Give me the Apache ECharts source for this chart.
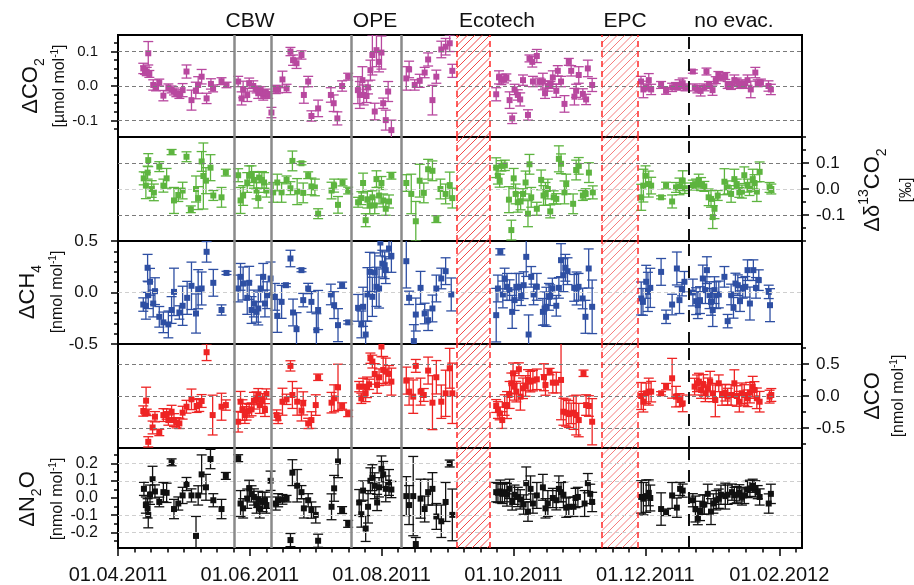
<!DOCTYPE html>
<html>
<head>
<meta charset="utf-8">
<script src="https://cdn.jsdelivr.net/npm/echarts@6/dist/echarts.min.js"></script>
<style>
  html, body { margin: 0; padding: 0; background: #fff; }
  #chart { width: 914px; height: 585px; }
</style>
</head>
<body>
<div id="chart"></div>
<script>
// x values are days since 01.04.2011, each point is [day, value, error]
const tickDates = ['2011-04-01', '2011-06-01', '2011-08-01', '2011-10-01', '2011-12-01', '2012-02-01'];
const tickLabels = ['01.04.2011', '01.06.2011', '01.08.2011', '01.10.2011', '01.12.2011', '01.02.2012'];
const xMax = 316.5;

const cbwDays = [53.6, 70.7];
const opeDays = [108.1, 131.2];
const ecotechDays = [156.6, 172];
const epcDays = [223.7, 240.3];
const noEvacDay = 264.2;
const periodNames = ['CBW', 'OPE', 'Ecotech', 'EPC', 'no evac.'];

const co2Ticks = [-0.1, 0, 0.1];
const d13cTicks = [-0.1, 0, 0.1];
const ch4Ticks = [-0.5, 0, 0.5];
const coTicks = [-0.5, 0, 0.5];
const n2oTicks = [-0.2, -0.1, 0, 0.1, 0.2];

const co2Data = [
  [11.7,0.051,0.015],[12.5,0.046,0.012],[13.3,0.042,0.012],[14,0.095,0.034],[14.5,0.035,0.01],[16.3,0.003,0.015],[17.6,-0.004,0.01],[19.1,0.01,0.01],[21,-0.028,0.015],[23.3,-0.004,0.01],[24.8,-0.01,0.01],[25.9,-0.016,0.01],[27,-0.021,0.01],[28.4,-0.026,0.01],[29.9,-0.012,0.019],[31.7,0.042,0.019],[34,-0.041,0.029],[36,-0.013,0.024],[37.1,0.003,0.024],[38.7,0.027,0.021],[41,-0.036,0.015],[43,0.006,0.015],[44,-0.007,0.01],[47.9,0.014,0.01],[50.2,0.003,0.008],
  [55.6,0.013,0.015],[57.2,-0.036,0.019],[57.9,-0.01,0.024],[59.8,-0.026,0.019],[60.7,0.008,0.015],[62.6,0,0.015],[64.1,-0.01,0.01],[64.9,-0.021,0.015],[66,-0.012,0.01],[67.2,-0.026,0.015],[68.4,-0.019,0.01],[69.5,-0.026,0.01],
  [71,-0.077,0.015],[73,-0.01,0.012],[74.1,-0.01,0.01],[76.1,0.019,0.024],[78,-0.007,0.012],[79.8,0.1,0.012],[81,0.075,0.015],[82.6,0.066,0.015],[84.9,0.09,0.012],[86,-0.026,0.024],[88,0.013,0.015],[89.5,-0.087,0.015],[92.6,-0.065,0.024],[98.5,-0.026,0.021],[99.8,-0.05,0.024],[101.5,-0.094,0.019],[103.7,0,0.015],[106.5,0.027,0.01],
  [111,-0.012,0.039],[111.9,-0.026,0.039],[113.1,0.017,0.039],[113.7,-0.026,0.029],[115,-0.029,0.019],[115.7,-0.004,0.019],[116.8,0.046,0.029],[117.7,0.09,0.058],[118.8,-0.074,0.024],[119.6,0.104,0.048],[120.8,0.07,0.029],[121.9,0.097,0.048],[122.7,-0.05,0.015],[123.9,-0.099,0.029],[125,-0.016,0.029],[126.5,-0.128,0.029],
  [133.4,0.022,0.034],[134.7,0.048,0.024],[137.3,0.003,0.015],[139.6,0.015,0.019],[141.9,0.039,0.015],[143.5,0.077,0.019],[145.5,-0.041,0.043],[147.3,0.027,0.019],[149.6,0.106,0.024],[151.6,0.114,0.024],[153.5,0.124,0.024],[154.7,0.044,0.019],
  [175,-0.024,0.019],[176.3,0.025,0.019],[177.4,0.019,0.015],[178.6,0.019,0.01],[179.7,0.025,0.01],[181.2,-0.041,0.024],[182.4,-0.094,0.015],[183.5,-0.01,0.015],[185,-0.026,0.015],[186.1,-0.039,0.019],[187.4,0.017,0.015],[189.7,-0.084,0.015],[190.4,0.08,0.01],[191.7,0.07,0.015],[192,0.013,0.015],[193.8,0.087,0.019],[195,0.013,0.01],[196.6,0.013,0.024],[197.6,-0.021,0.015],[198.9,0,0.015],[200.1,0.003,0.01],[201.2,0.025,0.019],[202.8,-0.014,0.019],[203.5,0.044,0.015],[205,0.013,0.015],[206.6,-0.052,0.024],[208.6,0.07,0.01],[209.7,0.044,0.015],[211.2,-0.031,0.024],[212,-0.014,0.019],[213.2,0.032,0.024],[215.1,-0.023,0.015],[216.6,-0.039,0.015],[217.4,0.051,0.024],[219.4,0.003,0.019],
  [242,0.013,0.015],[243.1,-0.01,0.024],[244.4,-0.004,0.01],[245.6,0.017,0.019],[246.7,-0.01,0.015],[251.3,0.003,0.01],[253.6,-0.014,0.01],[256.4,-0.004,0.012],[258.2,0,0.01],[259.8,0.003,0.015],[261.3,0.008,0.015],[262.6,-0.004,0.01],
  [266,0.042,0.005],[266.9,-0.004,0.01],[268.1,-0.01,0.01],[269.6,-0.014,0.015],[271.3,-0.004,0.01],[272.3,0.042,0.01],[273.5,0.003,0.01],[275.1,-0.012,0.015],[276.6,0.017,0.01],[277.8,0.032,0.01],[279,0.025,0.01],[281,0.029,0.01],[282.1,0.003,0.01],[283.6,0,0.01],[285.2,0.017,0.015],[286.3,0.013,0.01],[287.5,0.003,0.01],[288.7,0.008,0.01],[289.8,0.003,0.01],[291.3,0.017,0.015],[292.8,-0.01,0.024],[294.9,0.039,0.015],[296,0.008,0.01],[297.5,0.01,0.01],[301,0,0.015],[302.1,-0.01,0.015]
];

const d13cData = [
  [11.9,0.041,0.025],[12.9,0.013,0.05],[13.7,0.063,0.025],[14,0.111,0.025],[15.6,0,0.032],[16.6,-0.013,0.032],[19.1,0.086,0.019],[21,0.013,0.025],[22.5,0.041,0.038],[24.8,0.142,0.01],[25.9,-0.044,0.05],[27.9,-0.023,0.025],[29.9,-0.006,0.032],[31.7,0.124,0.019],[33.7,-0.078,0.013],[36.1,0,0.05],[37.1,-0.035,0.044],[38.7,0.106,0.038],[39.5,0.05,0.127],[40.7,0.032,0.05],[42.8,0.082,0.05],[44.1,-0.025,0.019],[47.9,-0.032,0.038],[49.9,0.063,0.013],
  [55.6,0.053,0.025],[56.7,-0.044,0.05],[57.9,-0.025,0.038],[59.8,0.025,0.038],[60.7,0.051,0.038],[61.8,0.057,0.032],[62.9,0.035,0.032],[64.1,-0.006,0.032],[64.9,-0.035,0.038],[65.3,0.044,0.02],[66.6,0.035,0.032],[67.6,0.025,0.038],[68.7,-0.006,0.025],
  [71.8,-0.013,0.038],[73.7,0.025,0.032],[75.7,-0.013,0.038],[78,0.035,0.015],[79.8,0.003,0.025],[80.7,0.108,0.038],[82.9,-0.01,0.05],[84.9,0.099,0.006],[85.7,-0.015,0.038],[88,0.053,0.013],[89.5,0.01,0.032],[91.1,0.006,0.032],[92.6,-0.095,0.019],[98.8,-0.006,0.032],[100,0.013,0.025],[101.8,-0.061,0.032],[103.9,0.025,0.013],[106.5,-0.006,0.013],
  [111.1,-0.051,0.019],[112.6,-0.035,0.025],[113.4,0.023,0.038],[114.6,-0.12,0.025],[115.4,-0.041,0.032],[116.5,-0.063,0.032],[117.7,-0.032,0.025],[118.8,-0.063,0.032],[119.6,0.038,0.032],[120.8,-0.025,0.032],[121.9,0.023,0.025],[122.7,-0.044,0.025],[123.9,-0.076,0.025],[125.4,-0.048,0.025],[126.5,0.051,0.013],
  [133.4,0.023,0.032],[135.7,-0.019,0.076],[137.8,-0.124,0.076],[139.6,0.032,0.063],[141.5,-0.015,0.038],[143.5,0.076,0.038],[145.5,0.07,0.038],[147.3,-0.116,0.013],[149.2,0,0.038],[151.6,-0.019,0.038],[153.5,0.015,0.05],[154.7,-0.035,0.038],
  [175,0.082,0.038],[175.8,0.051,0.032],[176.6,0.032,0.025],[177.4,0.089,0.02],[179,0.091,0.02],[180.9,-0.041,0.05],[182,-0.158,0.038],[183.1,0.041,0.038],[184,-0.019,0.038],[185,-0.051,0.038],[186.3,-0.048,0.032],[187.4,-0.019,0.02],[188.6,0.025,0.044],[189.7,-0.095,0.05],[190.4,0.095,0.038],[191.2,-0.032,0.038],[193.8,-0.076,0.025],[195.8,0.035,0.038],[196.9,-0.025,0.038],[197.8,-0.019,0.044],[198.9,0,0.038],[200,-0.086,0.025],[201.6,-0.032,0.025],[202.8,-0.038,0.02],[204,0.116,0.05],[205,0.097,0.038],[206.6,-0.013,0.044],[207.4,0.019,0.038],[210.6,-0.057,0.038],[212,0.073,0.038],[213.2,0.089,0.032],[215.1,-0.025,0.019],[216.4,-0.019,0.02],[217.9,0.063,0.038],[219.7,-0.013,0.025],
  [242.1,-0.032,0.05],[243.1,0.013,0.063],[244.1,0.051,0.038],[245.6,0.019,0.05],[246.7,0.013,0.032],[251.3,-0.032,0.006],[253.6,0.013,0.013],[256.4,-0.048,0.025],[258.2,0.006,0.019],[259.8,0.01,0.032],[261.3,0.032,0.038],[262.3,0.003,0.02],
  [266,0.015,0.019],[267.5,0.019,0.019],[268.7,0.032,0.025],[269.8,0.019,0.025],[271.3,0.01,0.019],[273.3,-0.032,0.032],[274.4,-0.038,0.032],[275.2,-0.108,0.044],[276,-0.076,0.038],[277.5,-0.025,0.019],[280.6,0.028,0.05],[282.1,0.006,0.025],[283.7,-0.019,0.032],[285.2,0.038,0.038],[286.3,0.019,0.019],[287.5,-0.013,0.019],[288.7,-0.01,0.025],[289.8,0.053,0.032],[291.3,0.013,0.025],[292.2,0,0.025],[293.7,0.038,0.038],[294.5,0.023,0.032],[295.6,-0.01,0.038],[296.9,0.066,0.038],[301.5,0.006,0.019],[302.3,0,0.019]
];

const ch4Data = [
  [11.7,-0.117,0.065],[12.9,-0.129,0.13],[13.7,0.24,0.13],[14,-0.026,0.13],[14.8,0.104,0.13],[16.3,-0.107,0.13],[17.1,0.013,0.13],[19.1,-0.236,0.1],[21,-0.29,0.1],[23.3,-0.31,0.13],[24.8,-0.17,0.13],[25.9,0.006,0.23],[28.4,-0.194,0.065],[29.9,-0.129,0.19],[32,-0.052,0.16],[34,0.065,0.23],[36.1,-0.204,0.19],[37.1,0.032,0.19],[38.7,0.039,0.16],[41,0.395,0.1],[44.1,0.094,0.13],[47.9,-0.17,0.05],[50.2,0.19,0.016],
  [55.6,0.039,0.13],[56.7,0.152,0.13],[57.9,0.087,0.16],[59.8,-0.052,0.16],[60.7,0.094,0.16],[61.8,-0.17,0.13],[62.9,-0.107,0.13],[64.1,-0.188,0.1],[64.9,-0.155,0.16],[66,0.039,0.13],[67.2,0.152,0.13],[68,-0.107,0.13],[69,-0.026,0.13],[70.6,0.136,0.16],
  [72.6,-0.042,0.13],[73.7,-0.227,0.16],[75.7,-0.091,0.16],[77.7,0.071,0.016],[79.8,0.33,0.08],[81,-0.194,0.13],[82.6,-0.356,0.16],[84.9,0.217,0.016],[85.7,-0.074,0.065],[88,0.039,0.05],[89.5,-0.091,0.1],[91.8,-0.366,0.16],[92.6,-0.17,0.19],[98.5,-0.019,0.1],[100,-0.123,0.13],[101.8,-0.317,0.16],[103.7,0.071,0.03],[106.5,-0.29,0.016],
  [111.1,-0.149,0.13],[112.6,-0.31,0.13],[113.4,-0.139,0.19],[114.6,-0.408,0.13],[115.4,-0.019,0.26],[116.5,0.2,0.19],[117.7,-0.042,0.19],[118.8,0.194,0.19],[119.6,0.055,0.19],[120.8,0.039,0.19],[121.4,0.485,0.13],[122.3,0.28,0.13],[123.4,0.265,0.13],[123.9,0.217,0.13],[125.4,0.427,0.1],[126.5,0.356,0.16],
  [133.4,0.304,0.26],[134.7,-0.052,0.065],[136.9,-0.472,0.16],[137.8,-0.214,0.16],[140,0.045,0.16],[141.9,-0.204,0.1],[143.5,-0.269,0.1],[145.5,-0.155,0.13],[147.3,0.039,0.13],[149.6,0.136,0.1],[151.6,0.207,0.13],[154.2,-0.019,0.16],
  [175,-0.22,0.26],[175.8,0.039,0.13],[176.9,0.395,0.03],[178.1,-0.019,0.13],[178.9,0.136,0.1],[180,0.055,0.13],[181.2,0.023,0.1],[182.4,-0.188,0.16],[183.5,-0.074,0.1],[184.3,0.055,0.13],[185.5,0.055,0.13],[186.6,-0.026,0.1],[187.7,0.071,0.13],[188.9,0.346,0.19],[190,-0.408,0.19],[191.2,0.152,0.1],[192.3,-0.019,0.1],[193.8,0.055,0.13],[196.6,-0.188,0.13],[197.4,-0.155,0.16],[198.2,-0.139,0.19],[199.4,-0.042,0.13],[200,-0.026,0.1],[201,0.039,0.1],[202.8,-0.129,0.1],[204,0.045,0.1],[205,0.314,0.16],[206.1,0.168,0.16],[207,0.24,0.13],[208,0.207,0.13],[211.1,0.045,0.13],[212.2,0.039,0.16],[213.1,0.055,0.13],[215,-0.058,0.1],[216.3,-0.236,0.16],[217.8,0.233,0.19],[219.4,-0.139,0.26],
  [242.1,-0.058,0.16],[242.9,-0.091,0.13],[244.4,0.104,0.16],[245.2,0.006,0.19],[246.3,0.045,0.19],[251.3,0.2,0.13],[253.6,-0.236,0.065],[256.4,-0.117,0.1],[258.6,0.233,0.16],[259.8,-0.074,0.13],[261,0.032,0.065],[262.1,0.104,0.1],
  [266,0,0.13],[267.5,-0.084,0.13],[268.3,-0.123,0.13],[269.3,-0.074,0.13],[270.6,0.136,0.13],[271.8,0.023,0.13],[272.5,0.217,0.13],[273.7,-0.026,0.13],[274.4,-0.091,0.13],[275.2,-0.17,0.16],[276,0.023,0.13],[276.8,-0.026,0.13],[278,-0.019,0.13],[280.6,0.152,0.1],[282.1,-0.278,0.065],[283.7,-0.019,0.1],[284.8,-0.149,0.1],[285.7,0.087,0.1],[286.8,0.071,0.1],[287.8,-0.084,0.1],[289.1,0.045,0.1],[290.3,0.055,0.1],[291.3,0.217,0.1],[292.4,-0.107,0.16],[294,0.217,0.1],[295.2,0.045,0.1],[296.5,0.12,0.1],[301.1,0.006,0.065],[301.7,-0.123,0.16]
];

const coData = [
  [11.7,-0.234,0.08],[13,-0.073,0.21],[13.3,-0.255,0.05],[14,-0.714,0.08],[16,-0.49,0.1],[17.1,-0.323,0.08],[19.1,-0.568,0.05],[21,-0.297,0.1],[22.5,-0.281,0.08],[23.3,-0.375,0.08],[24.8,-0.245,0.1],[25.9,-0.375,0.1],[27.1,-0.417,0.08],[28.4,-0.427,0.08],[29.9,-0.26,0.1],[31.7,-0.167,0.1],[34,-0.052,0.16],[36.4,-0.156,0.1],[37.6,-0.141,0.1],[38.7,-0.078,0.1],[41,0.682,0.13],[43.8,-0.297,0.31],[47.9,-0.167,0.21],[49.9,-0.141,0.08],
  [55.6,-0.401,0.16],[56.7,-0.089,0.16],[57.6,-0.219,0.16],[58.7,-0.297,0.13],[59.5,-0.245,0.13],[60.7,-0.229,0.1],[61.8,-0.208,0.1],[62.9,-0.073,0.13],[64.1,-0.036,0.1],[64.9,0.016,0.1],[65.6,-0.141,0.13],[66.9,-0.063,0.1],[68,-0.219,0.1],[68.7,0.031,0.08],
  [73.4,-0.297,0.08],[74.1,-0.349,0.08],[76.1,-0.089,0.21],[78,-0.052,0.08],[79.8,0.469,0.08],[80.7,0.016,0.21],[82.9,-0.089,0.21],[84.9,-0.229,0.16],[85.7,-0.115,0.18],[88,-0.427,0.08],[89.5,-0.375,0.13],[91.5,-0.141,0.16],[92.6,0.292,0.05],[98.8,-0.104,0.16],[100,-0.036,0.21],[101.8,0.135,0.36],[103.7,-0.156,0.05],[106.5,-0.271,0.05],
  [111.6,0.146,0.08],[112.6,-0.036,0.08],[113.4,0.146,0.13],[114.6,0.042,0.13],[115.2,0.135,0.16],[116.2,0.182,0.08],[116.8,0.589,0.08],[117.7,0.536,0.1],[118.8,0.344,0.16],[119.9,0.172,0.13],[120.8,0.292,0.13],[121.9,0.771,0.16],[122.7,0.406,0.21],[123.9,0.38,0.21],[125.4,0.344,0.13],[126.5,0.224,0.21],
  [133.4,0.24,0.21],[134.7,0.068,0.21],[136.6,-0.01,0.26],[137.8,0.469,0.1],[140,0.068,0.21],[141.5,0.016,0.1],[143.5,0.396,0.21],[145.5,-0.104,0.42],[147.3,0.292,0.26],[149.6,-0.089,0.26],[151.6,0.042,0.36],[153.5,0.432,0.31],[154.7,0.042,0.47],
  [175,-0.156,0.1],[175.8,-0.219,0.13],[176.6,-0.271,0.1],[177.8,-0.375,0.13],[178.9,-0.141,0.16],[180,-0.141,0.21],[181.2,0.016,0.21],[182,0.198,0.16],[182.8,0.354,0.16],[183.5,0.146,0.21],[184.3,0.068,0.16],[185.5,0.417,0.1],[186.2,-0.01,0.21],[187.4,0.12,0.16],[188.6,0.156,0.16],[189.7,0.25,0.16],[190.8,0.224,0.16],[192,0.24,0.16],[193.8,0.26,0.16],[197.1,0.292,0.21],[197.8,0.172,0.16],[199.7,0.38,0.05],[201.2,0.208,0.16],[202.8,0.208,0.16],[205,0.25,0.62],[206.1,-0.245,0.21],[207.4,-0.26,0.21],[208.6,-0.281,0.21],[209.7,-0.271,0.16],[210.8,-0.26,0.26],[212,-0.297,0.31],[213.2,-0.375,0.26],[215.4,0.354,0.05],[216.6,-0.141,0.16],[217.9,-0.156,0.16],[219.4,-0.401,0.36],
  [242.1,0,0.21],[243.1,-0.089,0.16],[244.4,0.042,0.16],[245.6,0.068,0.21],[246.7,0.068,0.16],[251.3,0.042,0.026],[253.6,0.146,0.05],[256.4,0.276,0.31],[258.2,-0.01,0.16],[259.8,-0.063,0.1],[261.3,-0.115,0.13],
  [266.8,0.146,0.13],[267.9,0.198,0.13],[268.8,0.224,0.13],[269.8,0.094,0.13],[270.9,0.172,0.16],[271.8,0.042,0.13],[272.9,0.12,0.16],[274,0.224,0.16],[275.2,0.042,0.13],[276.4,-0.063,0.26],[278,0.198,0.13],[279.5,0.016,0.16],[281,0.052,0.13],[282.1,-0.01,0.13],[283.7,0.016,0.16],[285.2,0.198,0.21],[286.3,0,0.16],[287.5,-0.089,0.16],[288.7,0.042,0.16],[289.8,0.016,0.16],[291.3,-0.036,0.13],[292.4,0.052,0.16],[293.7,0.146,0.16],[294.5,0.094,0.13],[295.6,-0.036,0.16],[296.9,-0.089,0.16],[301.5,-0.01,0.1],[302.3,0.016,0.1]
];

const n2oData = [
  [12,0.053,0.038],[12.9,-0.041,0.047],[13.7,-0.06,0.056],[14,-0.098,0.075],[14.8,0.019,0.056],[16,0.109,0.075],[17.1,0.038,0.038],[19.1,-0.023,0.028],[21,0.034,0.056],[22.5,0.03,0.056],[24.8,0.207,0.02],[25.9,-0.064,0.056],[27.9,-0.032,0.038],[29.9,0.015,0.047],[31.7,0.081,0.038],[34,0.015,0.038],[36.1,-0.22,0.113],[37.1,0.015,0.056],[38.7,0.137,0.113],[40.7,0.062,0.075],[42.8,0.226,0.056],[44.1,-0.013,0.038],[47.9,-0.064,0.056],[49.9,0.128,0.02],
  [55.6,0.231,0.02],[56.7,-0.032,0.075],[57.9,-0.06,0.056],[59.8,-0.004,0.056],[60.7,0.056,0.047],[61.8,0.024,0.047],[62.9,0.006,0.047],[64.1,-0.041,0.047],[64.9,-0.008,0.047],[65.6,-0.06,0.056],[66.9,-0.023,0.056],[68,-0.013,0.047],[68.7,-0.041,0.047],[70.6,0.1,0.056],
  [73,-0.032,0.038],[74.1,-0.013,0.038],[76.1,-0.008,0.028],[78,-0.004,0.019],[79.8,-0.244,0.038],[80.7,0.147,0.075],[82.9,0.071,0.094],[84.9,0.034,0.038],[86,-0.06,0.056],[88,-0.013,0.038],[89.5,-0.07,0.047],[91.5,-0.098,0.047],[92.6,-0.248,0.038],[98.8,-0.051,0.075],[100,0.056,0.075],[101.8,0.212,0.094],[103.7,-0.07,0.02],[106.5,-0.15,0.02],
  [111.6,-0.026,0.075],[112.6,-0.094,0.075],[113.4,0.043,0.056],[114.6,-0.177,0.075],[115.7,-0.051,0.094],[116.8,0.1,0.075],[117.7,0.118,0.075],[118.8,0.071,0.075],[119.9,-0.026,0.047],[120.8,0.062,0.056],[121.9,0.169,0.075],[122.7,0.137,0.075],[123.9,0.053,0.075],[125.4,0.09,0.075],[126.5,0.049,0.047],
  [133.4,0.011,0.113],[134.7,-0.041,0.113],[136.6,0.011,0.23],[137.8,-0.267,0.038],[140,-0.004,0.113],[141.9,-0.064,0.075],[143.5,0.034,0.075],[145.5,0.053,0.094],[147.3,-0.107,0.075],[149.6,-0.135,0.094],[151.6,-0.023,0.113],[153.5,0.2,0.02],[154.7,-0.098,0.15],
  [175,0.034,0.056],[175.8,0.03,0.056],[176.9,0.038,0.066],[177.8,0.024,0.056],[178.9,0.034,0.056],[180,0.019,0.066],[181.2,0.053,0.056],[182.4,-0.023,0.047],[183.5,0.019,0.056],[185,0.006,0.056],[186.1,-0.008,0.056],[187.7,-0.038,0.056],[188.9,0.086,0.094],[189.7,-0.079,0.056],[190.9,0.053,0.075],[192,-0.032,0.056],[193.8,0.015,0.075],[196.6,0.062,0.075],[197.8,-0.06,0.056],[198.9,-0.032,0.075],[201.2,0,0.056],[202.8,-0.013,0.056],[204,0.053,0.075],[205,0.034,0.056],[206.1,0.019,0.075],[207.4,-0.056,0.056],[208.6,-0.051,0.056],[210.8,-0.051,0.056],[211.7,0,0.056],[212.8,0.006,0.056],[215.9,-0.032,0.075],[217.4,0.086,0.056],[218.5,0.024,0.056],[219.4,-0.023,0.056],
  [242.1,0.006,0.094],[243.1,-0.004,0.094],[244.4,0.011,0.094],[245.6,0.03,0.075],[246.3,0,0.075],[251.3,-0.064,0.094],[253.6,-0.083,0.019],[256.4,0.015,0.075],[258.6,-0.056,0.056],[260.1,0.053,0.038],[261.3,0.043,0.038],
  [266,-0.013,0.038],[267.2,-0.064,0.075],[268.3,-0.117,0.038],[269.3,-0.075,0.056],[270.6,-0.038,0.056],[271.3,-0.038,0.056],[272.9,0.024,0.056],[274.4,-0.079,0.075],[275.5,-0.032,0.056],[276.8,-0.013,0.056],[278,-0.004,0.056],[279,0.019,0.056],[281,0.011,0.075],[282.1,0.019,0.056],[284.1,0.034,0.047],[285.2,0.015,0.047],[286.3,0.019,0.047],[287.5,0.03,0.047],[288.7,0.006,0.047],[289.8,0.015,0.047],[291.3,0.049,0.047],[292.4,0.056,0.047],[293.7,0.071,0.038],[294.9,0.053,0.047],[296,0.034,0.038],[296.9,0.006,0.047],[301.1,-0.032,0.056],[302.1,0.024,0.056]
];

const FONT = 'Liberation Sans, Arial, sans-serif';
const DARK_DASH = '#7a7a7a';
const LIGHT_DASH = '#cfcfcf';

const panels = [
  { data: co2Data, color: '#b8489f', top: 35, height: 102, side: 'left', min: -0.148, max: 0.148, ticks: co2Ticks, minorStep: 0.025, labelSize: 15,
    lines: [[0.1, DARK_DASH], [0, DARK_DASH], [-0.1, DARK_DASH]] },
  { data: d13cData, color: '#5db43f', top: 137, height: 104, side: 'right', min: -0.2, max: 0.2, ticks: d13cTicks, minorStep: 0.05, labelSize: 17,
    lines: [[0.1, DARK_DASH], [0, LIGHT_DASH], [-0.1, DARK_DASH]] },
  { data: ch4Data, color: '#2e4fa3', top: 241, height: 103, side: 'left', min: -0.5, max: 0.5, ticks: ch4Ticks, minorStep: 0.1, labelSize: 17,
    lines: [[0, LIGHT_DASH]] },
  { data: coData, color: '#ee2424', top: 344, height: 104, side: 'right', min: -0.81, max: 0.81, ticks: coTicks, minorStep: 0.25, labelSize: 17,
    lines: [[0.5, DARK_DASH], [0, DARK_DASH], [-0.5, DARK_DASH]] },
  { data: n2oData, color: '#111111', top: 448, height: 102, side: 'left', min: -0.29, max: 0.29, ticks: n2oTicks, minorStep: 0.05, labelSize: 16,
    lines: [[0.2, LIGHT_DASH], [0.1, LIGHT_DASH], [-0.1, LIGHT_DASH], [-0.2, LIGHT_DASH]] }
];

const dayOf = d => (Date.parse(d) - Date.parse(tickDates[0])) / 864e5;
const tickDays = tickDates.map(dayOf);
const minorDays = [];
tickDays.forEach((d, i) => {
  const step = ((tickDays[i + 1] ?? d + 61) - d) / 8;
  for (let k = 1; k < 8; k++) if (d + k * step < xMax) minorDays.push(d + k * step);
});

function minorTicks(p) {
  const out = [];
  for (let v = Math.ceil(p.min / p.minorStep) * p.minorStep; v <= p.max + 1e-9; v += p.minorStep) {
    const r = Math.round(v * 1000) / 1000;
    if (!p.ticks.some(t => Math.abs(t - r) < 1e-6)) out.push(r);
  }
  return out;
}

// diagonal red hatching over a span of days, clipped to the panel
const hatchAlpha = [0.85, 0.6];
function renderHatch(params, api) {
  const cs = params.coordSys;
  const xa = api.coord([api.value(0), 0])[0];
  const xb = api.coord([api.value(1), 0])[0];
  const top = cs.y, bottom = cs.y + cs.height;
  const gap = 7.5;
  const stroke = 'rgba(238, 40, 40, ' + hatchAlpha[params.dataIndex] + ')';
  const lines = [];
  for (let c = Math.floor((xa + top) / gap) * gap; c <= xb + bottom; c += gap) {
    lines.push({ type: 'line', shape: { x1: c - bottom, y1: bottom, x2: c - top, y2: top },
      style: { stroke, lineWidth: 1 } });
  }
  return { type: 'group', children: lines,
    clipPath: { type: 'rect', shape: { x: xa, y: top, width: xb - xa, height: cs.height } } };
}

function renderErrorBar(params, api) {
  const x = api.value(0), y = api.value(1), e = api.value(2);
  const p = api.coord([x, y]);
  const hi = api.coord([x, y + e])[1];
  const lo = api.coord([x, y - e])[1];
  const color = api.visual('color');
  const st = { stroke: color, lineWidth: 1.3 };
  const cap = 5;
  return {
    type: 'group',
    children: [
      { type: 'line', shape: { x1: p[0], y1: hi, x2: p[0], y2: lo }, style: st },
      { type: 'line', shape: { x1: p[0] - cap, y1: hi, x2: p[0] + cap, y2: hi }, style: st },
      { type: 'line', shape: { x1: p[0] - cap, y1: lo, x2: p[0] + cap, y2: lo }, style: st },
      { type: 'rect', shape: { x: p[0] - 3, y: p[1] - 3, width: 6, height: 6 }, style: { fill: color } }
    ]
  };
}

const grids = [], xAxes = [], yAxes = [], series = [];
const redDash = { color: '#ff2a2a', width: 1.5, type: [6, 4] };
const grayLine = { color: '#8a8a8a', width: 2.5, type: 'solid' };
const noLine = { show: false, onZero: false };

panels.forEach((p, i) => {
  grids.push({ left: 118, right: 112, top: p.top, height: p.height, show: true,
    borderColor: '#000', borderWidth: 2, backgroundColor: 'transparent' });

  const xi = xAxes.length;
  if (i < panels.length - 1) {
    xAxes.push({ type: 'value', gridIndex: i, min: 0, max: xMax, show: false, axisLine: noLine });
  } else {
    xAxes.push({ type: 'value', gridIndex: i, min: 0, max: xMax, position: 'bottom',
      axisLine: noLine, splitLine: { show: false },
      axisTick: { customValues: tickDays, length: 8, lineStyle: { color: '#000', width: 1.5 } },
      axisLabel: { customValues: tickDays, margin: 17, fontSize: 20, fontFamily: FONT, color: '#111',
        formatter: v => tickLabels[tickDays.findIndex(t => Math.abs(t - v) < 0.01)] || '' } });
    xAxes.push({ type: 'value', gridIndex: i, min: 0, max: xMax, position: 'bottom',
      axisLine: noLine, splitLine: { show: false }, axisLabel: { show: false },
      axisTick: { customValues: minorDays, length: 4.5, lineStyle: { color: '#000', width: 1.5 } } });
  }

  yAxes.push({ type: 'value', gridIndex: i, position: p.side, min: p.min, max: p.max,
    axisLine: noLine, splitLine: { show: false },
    axisTick: { customValues: p.ticks, length: 7, lineStyle: { color: '#000', width: 1.5 } },
    axisLabel: { customValues: p.ticks, margin: p.side === 'left' ? 20 : 14, fontSize: p.labelSize, fontFamily: FONT, color: '#111',
      formatter: v => v.toFixed(1) } });
  yAxes.push({ type: 'value', gridIndex: i, position: p.side, min: p.min, max: p.max,
    axisLine: noLine, splitLine: { show: false }, axisLabel: { show: false },
    axisTick: { customValues: minorTicks(p), length: 4, lineStyle: { color: '#000', width: 1.5 } } });

  series.push({
    type: 'custom', xAxisIndex: xi, yAxisIndex: 2 * i, silent: true, z: 1,
    renderItem: renderHatch, data: [ecotechDays, epcDays],
    markLine: { silent: true, symbol: 'none', label: { show: false }, animation: false,
      data: [
        ...p.lines.map(([v, c]) => ({ yAxis: v, lineStyle: { color: c, width: 1, type: [4, 3] } })),
        ...cbwDays.concat(opeDays).map(d => ({ xAxis: d, lineStyle: grayLine })),
        ...ecotechDays.concat(epcDays).map(d => ({ xAxis: d, lineStyle: redDash })),
        { xAxis: noEvacDay, lineStyle: { color: '#111', width: 2, type: [12, 10] } }
      ] }
  });

  series.push({
    type: 'custom', xAxisIndex: xi, yAxisIndex: 2 * i, clip: true, z: 3,
    itemStyle: { color: p.color }, renderItem: renderErrorBar,
    encode: { x: 0, y: 1 }, data: p.data
  });
});

function rotText(x, y, text, rich) {
  return { type: 'text', x, y, rotation: Math.PI / 2, silent: true,
    style: { text, rich, fill: '#111', align: 'center', verticalAlign: 'middle',
      textAlign: 'center', textVerticalAlign: 'middle' } };
}
const bigRich = {
  b: { fontSize: 22, fontFamily: FONT, fill: '#111', lineHeight: 32, verticalAlign: 'middle' },
  s: { fontSize: 14, fontFamily: FONT, fill: '#111', lineHeight: 12, verticalAlign: 'bottom' },
  p: { fontSize: 14, fontFamily: FONT, fill: '#111', lineHeight: 12, verticalAlign: 'top' }
};
const unitRich = {
  n: { fontSize: 16, fontFamily: FONT, fill: '#111', lineHeight: 20, verticalAlign: 'middle' },
  p: { fontSize: 10, fontFamily: FONT, fill: '#111', lineHeight: 9, verticalAlign: 'top' }
};

const topLabelX = [250, 375, 497, 625, 734];
const graphics = periodNames.map((t, i) => ({
  type: 'text', x: topLabelX[i], y: 21, silent: true,
  style: { text: t, fill: '#111', font: '21px ' + FONT, align: 'center', verticalAlign: 'middle',
    textAlign: 'center', textVerticalAlign: 'middle' }
}));
graphics.push(
  rotText(31, 86, '{b|ΔCO}{s|2}', bigRich),
  rotText(60, 86, '{n|[µmol mol}{p|-1}{n|]}', unitRich),
  rotText(873, 190, '{b|Δδ}{p|13}{b|CO}{s|2}', bigRich),
  rotText(907, 190, '{n|[‰]}', unitRich),
  rotText(28, 292, '{b|ΔCH}{s|4}', bigRich),
  rotText(58, 292, '{n|[nmol mol}{p|-1}{n|]}', unitRich),
  rotText(873, 396, '{b|ΔCO}', bigRich),
  rotText(899, 396, '{n|[nmol mol}{p|-1}{n|]}', unitRich),
  rotText(28, 499, '{b|ΔN}{s|2}{b|O}', bigRich),
  rotText(58, 499, '{n|[nmol mol}{p|-1}{n|]}', unitRich)
);

const chart = echarts.init(document.getElementById('chart'));
chart.setOption({
  animation: false,
  backgroundColor: '#fff',
  grid: grids,
  xAxis: xAxes,
  yAxis: yAxes,
  series,
  graphic: { elements: graphics }
});
</script>
</body>
</html>
